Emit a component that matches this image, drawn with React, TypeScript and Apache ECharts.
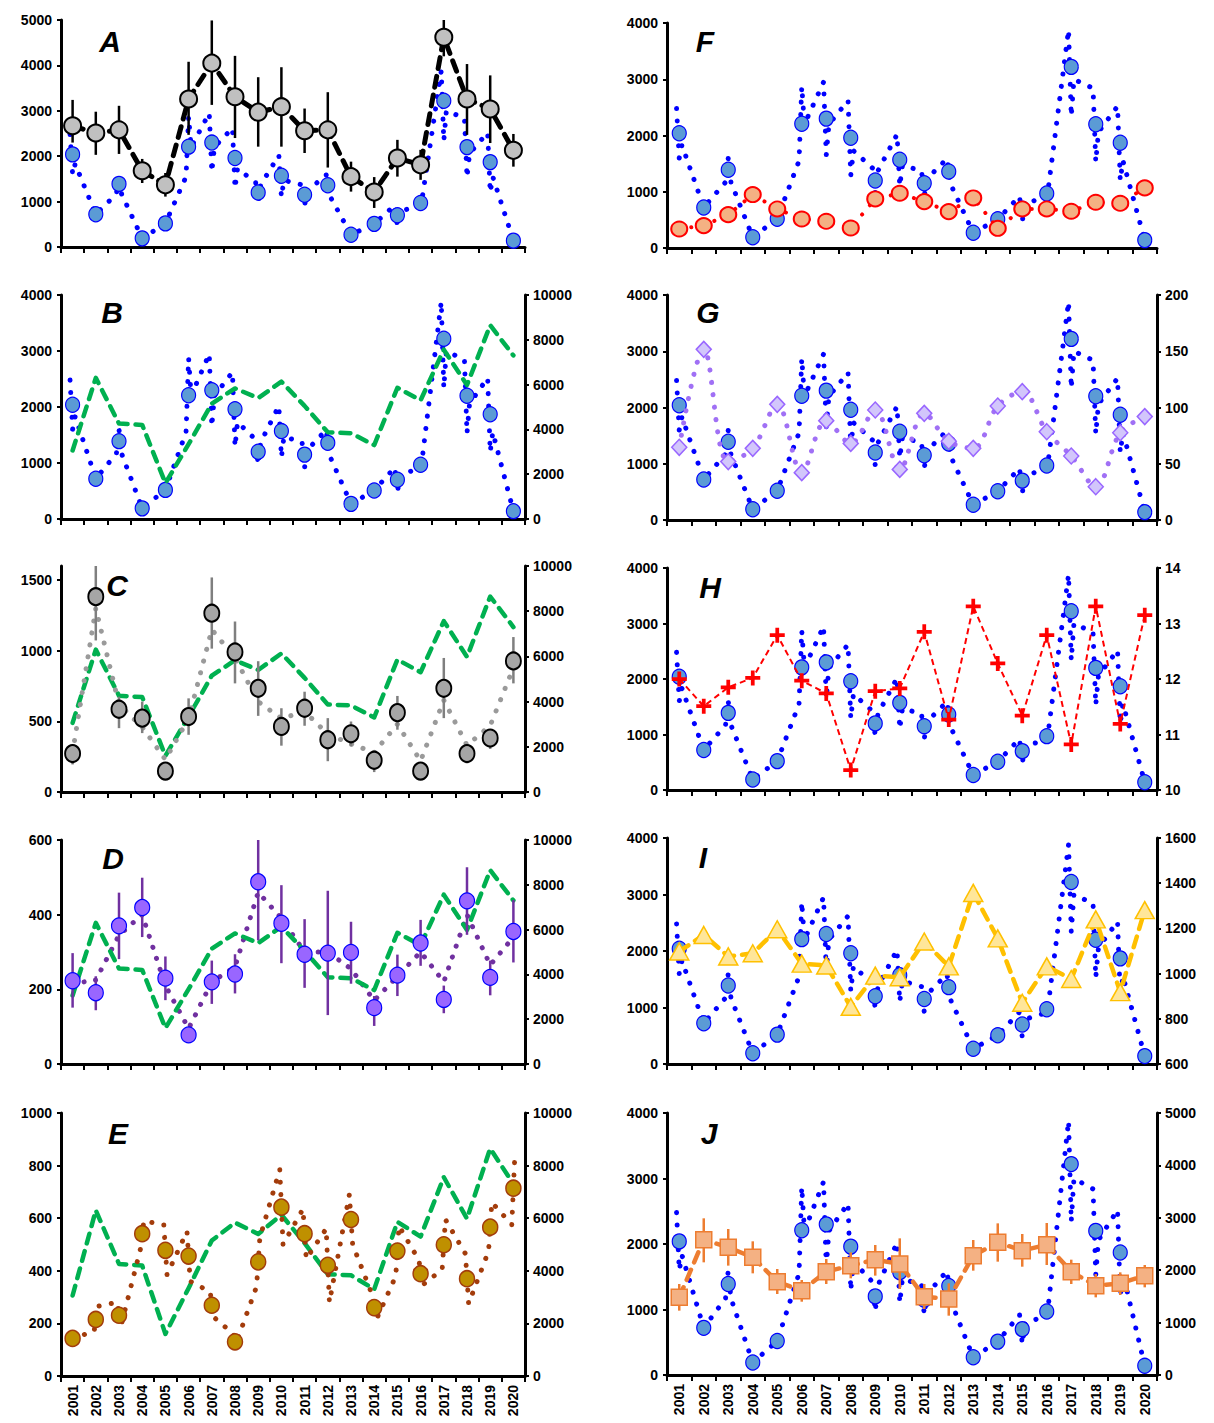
import { useEffect, useRef } from 'react';
import * as echarts from 'echarts';

const years = ['2001','2002','2003','2004','2005','2006','2007','2008','2009','2010','2011','2012','2013','2014','2015','2016','2017','2018','2019','2020'];

// Blue series (shared by A, B, F, G, H, I, J)
const blueMean = [2040, 720, 1390, 190, 520, 2210, 2300, 1960, 1200, 1570, 1150, 1360, 270, 510, 700, 970, 3220, 2200, 1870, 140];
const blueObs = [
  [2480, 1600, 1830], [720], [1170, 1600, 1170], [190], [520],
  [1550, 2870, 2200], [2950, 1650, 2200], [2620, 1290, 1730], [1420, 970, 1370], [2020, 1100, 1470],
  [1370, 920, 1230], [1590, 1140], [270], [510], [920, 470, 790],
  [900, 1080], [3880, 2340, 3000], [2840, 1530, 2060], [2520, 1200, 1550], [140],
];

// Panel A
const aMean = [2670, 2510, 2580, 1680, 1370, 3260, 4050, 3310, 2970, 3090, 2560, 2580, 1550, 1210, 1960, 1810, 4620, 3260, 3040, 2130];
const aLo = [2300, 2030, 2050, 1410, 1110, 2470, 3130, 2400, 2210, 2210, 2070, 1750, 1220, 860, 1550, 1480, 4200, 2470, 2290, 1770];
const aHi = [3240, 2980, 3110, 1940, 1630, 4080, 4990, 4210, 3740, 3960, 3050, 3410, 1880, 1540, 2360, 2140, 5200, 4030, 3780, 2490];

// Green dashed series (B, C, D, E, right axis)
const green = [3060, 6300, 4260, 4200, 1600, 3340, 5150, 5830, 5400, 6130, 5050, 3870, 3830, 3300, 5860, 5300, 7560, 5980, 8650, 7300];

// Panel C
const cMean = [272, 1383, 586, 523, 148, 534, 1266, 991, 734, 464, 593, 370, 412, 225, 562, 148, 734, 272, 382, 928];
const cLo = [195, 1073, 452, 417, 100, 405, 1015, 769, 539, 328, 469, 218, 323, 141, 441, 110, 523, 206, 305, 769];
const cHi = [335, 1700, 675, 640, 206, 663, 1519, 1207, 926, 593, 710, 523, 499, 288, 680, 200, 949, 335, 441, 1097];
const cObs = [[280], [1300], [620], [460], [230], [520], [1150], [950], [640], [520], [570], [410], [340], [280], [480], [220], [650], [330], [470], [880]];

// Panel D
const dMean = [223, 191, 370, 419, 230, 78, 220, 241, 488, 377, 294, 297, 299, 151, 238, 324, 173, 437, 232, 355];
const dLo = [151, 144, 281, 340, 171, 70, 161, 189, 331, 270, 204, 131, 215, 102, 182, 263, 136, 346, 184, 272];
const dHi = [297, 235, 459, 499, 288, 85, 277, 294, 640, 479, 388, 464, 381, 182, 293, 386, 210, 527, 277, 439];
const dObs = [[215], [225], [345], [400], [210], [95], [220], [260], [460], [390], [300], [300], [255], [170], [235], [300], [220], [400], [265], [340]];

// Panel E
const eMean = [143, 215, 231, 541, 478, 456, 269, 130, 434, 642, 541, 421, 595, 260, 475, 389, 499, 370, 566, 714];
const eObs = [
  [143], [170, 265], [280, 185], [485, 590], [575, 385],
  [550, 360], [320, 225], [160, 130], [340, 525], [785, 500],
  [635, 445], [560, 280], [690, 500], [305, 210], [380, 570],
  [440, 345], [405, 595], [465, 275], [475, 660], [575, 855],
];

// Panel F
const fRed = [338, 398, 593, 950, 694, 516, 475, 356, 872, 973, 825, 647, 890, 350, 694, 694, 653, 813, 795, 1068];
// Panel G
const gDiamond = [64.6, 151.7, 51.9, 63.7, 102.8, 42.1, 88.3, 68.1, 97.8, 45.0, 94.8, 70.0, 63.7, 101.3, 114.1, 78.5, 56.9, 29.6, 77.6, 91.9];
// Panel H
const hCross = [12.0, 11.51, 11.85, 12.02, 12.79, 11.97, 11.74, 10.36, 11.78, 11.83, 12.85, 11.27, 13.31, 12.28, 11.34, 12.79, 10.82, 13.31, 11.19, 13.15];
// Panel I
const iTri = [1098, 1171, 1076, 1090, 1196, 1044, 1036, 853, 991, 984, 1142, 1032, 1357, 1156, 871, 1032, 976, 1240, 918, 1281];
// Panel J
const jSquare = [1482, 2583, 2436, 2246, 1781, 1609, 1972, 2087, 2201, 2119, 1495, 1450, 2277, 2532, 2373, 2487, 1972, 1705, 1749, 1896];
const jLo = [1228, 2150, 2087, 1940, 1546, 1399, 1737, 1845, 1896, 1641, 1260, 1132, 1991, 2163, 2067, 2099, 1737, 1482, 1527, 1673];
const jHi = [1737, 2990, 2786, 2551, 2023, 1813, 2214, 2341, 2481, 2608, 1737, 1749, 2576, 2894, 2691, 2901, 2201, 1927, 1959, 2099];

const FONT = '"Liberation Sans", Arial, sans-serif';

const pts = (arr: number[]) => arr.map((v, i) => [i + 1, v]);
// observations within a year are spread very slightly around the year position
const OFFS: Record<number, number[]> = { 1: [0], 2: [-0.07, 0.07], 3: [-0.11, 0, 0.11] };
const obsPts = (obs: number[][]) => obs.flatMap((vals, i) => vals.map((v, j) => [i + 1 + (OFFS[vals.length] || [0])[j], v]));
const barPts = (lo: number[], hi: number[]) => lo.map((l, i) => [i + 1, l, hi[i]]);

function App() {
  const ref = useRef<HTMLDivElement>(null);
  useEffect(() => {
    if (!ref.current) return;
    const chart = echarts.init(ref.current, null, { renderer: 'svg' });

    const grids: any[] = [];
    const xAxes: any[] = [];
    const yAxes: any[] = [];
    const series: any[] = [];
    const graphics: any[] = [];

    const dotted = (data: any[], color: string, xi: number, yi: number, width = 5, gap = 12.3, z = 2, smooth: any = false) => ({
      type: 'line', xAxisIndex: xi, yAxisIndex: yi, data, symbol: 'none', smooth, z, silent: true,
      lineStyle: { color, width, type: [0.1, gap], cap: 'round', join: 'round' },
    });
    const dashed = (data: any[], color: string, xi: number, yi: number, width: number, dash: number[], z = 3, cap = 'round') => ({
      type: 'line', xAxisIndex: xi, yAxisIndex: yi, data, symbol: 'none', z, silent: true,
      lineStyle: { color, width, type: dash, cap, join: 'round' },
    });
    const marks = (data: any[], symbol: string, size: any, fill: string, border: string, bw: number, xi: number, yi: number, z = 5) => ({
      type: 'scatter', xAxisIndex: xi, yAxisIndex: yi, data, symbol, symbolSize: size, z, silent: true,
      itemStyle: { color: fill, borderColor: border, borderWidth: bw, opacity: 1 },
    });
    const errBars = (data: any[], color: string, xi: number, yi: number, width = 2.5, z = 4) => ({
      type: 'custom', xAxisIndex: xi, yAxisIndex: yi, data, z, silent: true, clip: true,
      encode: { x: 0, y: [1, 2] },
      renderItem: (_p: any, api: any) => {
        const x = api.value(0);
        const a = api.coord([x, api.value(1)]);
        const b = api.coord([x, api.value(2)]);
        return { type: 'line', shape: { x1: a[0], y1: a[1], x2: b[0], y2: b[1] }, style: { stroke: color, lineWidth: width } };
      },
    });

    const plain = (v: number) => String(v);
    const axisBase = {
      axisLine: { show: true, lineStyle: { color: '#000', width: 3 } },
      axisTick: { show: true, length: 4, inside: false, lineStyle: { color: '#000', width: 2 } },
      axisLabel: { color: '#000', fontFamily: FONT, fontWeight: 'bold', fontSize: 14, margin: 9, formatter: plain },
      splitLine: { show: false },
    };

    const panels: any[] = [
      { L: 'A', col: 0, top: 20, h: 227, lmax: 5000, li: 1000, lx: 110, ly: 41 },
      { L: 'B', col: 0, top: 295, h: 224, lmax: 4000, li: 1000, rmax: 10000, ri: 2000, lx: 112, ly: 312 },
      { L: 'C', col: 0, top: 566, h: 226, lmax: 1600, li: 500, hideMax: true, rmax: 10000, ri: 2000, lx: 117, ly: 585 },
      { L: 'D', col: 0, top: 840, h: 224, lmax: 600, li: 200, rmax: 10000, ri: 2000, lx: 113, ly: 858 },
      { L: 'E', col: 0, top: 1113, h: 263, lmax: 1000, li: 200, rmax: 10000, ri: 2000, lx: 118, ly: 1133, labels: true },
      { L: 'F', col: 1, top: 23, h: 225, lmax: 4000, li: 1000, lx: 705, ly: 41 },
      { L: 'G', col: 1, top: 295, h: 225, lmax: 4000, li: 1000, rmin: 0, rmax: 200, ri: 50, lx: 708, ly: 312 },
      { L: 'H', col: 1, top: 568, h: 222, lmax: 4000, li: 1000, rmin: 10, rmax: 14, ri: 1, lx: 710, ly: 587 },
      { L: 'I', col: 1, top: 838, h: 226, lmax: 4000, li: 1000, rmin: 600, rmax: 1600, ri: 200, lx: 703, ly: 857 },
      { L: 'J', col: 1, top: 1113, h: 262, lmax: 4000, li: 1000, rmin: 0, rmax: 5000, ri: 1000, lx: 709, ly: 1133, labels: true },
    ];

    panels.forEach((p, k) => {
      const left = p.col === 0 ? 61 : 667;
      const width = p.col === 0 ? 464 : 490;
      grids.push({ left, top: p.top, width, height: p.h });
      xAxes.push({
        type: 'category', gridIndex: k, data: years, boundaryGap: true, position: 'bottom',
        axisLine: { show: true, onZero: false, lineStyle: { color: '#000', width: 3 } },
        axisTick: { show: true, interval: 0, alignWithLabel: false, length: 6, lineStyle: { color: '#000', width: 2 } },
        axisLabel: { show: !!p.labels, interval: 0, rotate: 90, color: '#000', fontFamily: FONT, fontWeight: 'bold', fontSize: 14, margin: 9 },
        splitLine: { show: false },
      });
      const xi = xAxes.length;
      xAxes.push({ type: 'value', gridIndex: k, min: 0.5, max: 20.5, show: false });
      const yl = yAxes.length;
      yAxes.push({
        type: 'value', gridIndex: k, position: 'left', min: 0, max: p.lmax, interval: p.li,
        ...axisBase,
        axisLabel: { ...axisBase.axisLabel, showMaxLabel: !p.hideMax },
      });
      let yr = yl;
      if (p.rmax !== undefined) {
        yr = yAxes.length;
        yAxes.push({
          type: 'value', gridIndex: k, position: 'right', min: p.rmin ?? 0, max: p.rmax, interval: p.ri,
          ...axisBase,
          axisLabel: { ...axisBase.axisLabel, margin: 8 },
        });
      }
      graphics.push({
        type: 'text', x: p.lx, y: p.ly, z: 100,
        style: { text: p.L, font: `italic bold 30px ${FONT}`, fill: '#000', textAlign: 'center', textVerticalAlign: 'middle' },
      });

      const blueDots = () => dotted(obsPts(blueObs), '#0000ff', xi, yl, 5, 12.3, 2);
      const blueCircles = () => marks(pts(blueMean), 'circle', [14, 15], '#5b9bd5', '#0000ff', 1.2, xi, yl, 6);

      switch (p.L) {
        case 'A':
          series.push(blueDots(), blueCircles());
          series.push(dashed(pts(aMean), '#000', xi, yl, 5, [11, 8], 7));
          series.push(errBars(barPts(aLo, aHi), '#000', xi, yl, 2.5, 8));
          series.push(marks(pts(aMean), 'circle', [17, 17], '#c0c0c0', '#000', 2, xi, yl, 9));
          break;
        case 'B':
          series.push(blueDots(), blueCircles());
          series.push(dashed(pts(green), '#00b050', xi, yr, 4.5, [10, 8], 7));
          break;
        case 'C':
          series.push(dashed(pts(green), '#00b050', xi, yr, 4.5, [10, 8], 3));
          series.push(dotted(obsPts(cObs), '#9a9a9a', xi, yl, 5, 12, 4));
          series.push(errBars(barPts(cLo, cHi), '#7f7f7f', xi, yl, 2.5, 5));
          series.push(marks(pts(cMean), 'circle', [15, 17], '#a6a6a6', '#000', 2, xi, yl, 6));
          break;
        case 'D':
          series.push(dotted(obsPts(dObs), '#7030a0', xi, yl, 5, 11.5, 3));
          series.push(dashed(pts(green), '#00b050', xi, yr, 4.5, [10, 8], 4));
          series.push(errBars(barPts(dLo, dHi), '#7030a0', xi, yl, 2.5, 5));
          series.push(marks(pts(dMean), 'circle', [15, 16], '#9966ff', '#0000ff', 1.2, xi, yl, 6));
          break;
        case 'E':
          series.push(dashed(pts(green), '#00b050', xi, yr, 4.5, [10, 8], 3));
          series.push(dotted(obsPts(eObs), '#a33c0b', xi, yl, 5, 12.3, 4));
          series.push(marks(pts(eMean), 'circle', [15, 16], '#bf9000', '#a33c0b', 1.5, xi, yl, 6));
          break;
        case 'F':
          series.push(blueDots(), blueCircles());
          series.push(dotted(pts(fRed), '#ff0000', xi, yl, 4, 12, 7));
          series.push(marks(pts(fRed), 'circle', [16, 15], '#f4b183', '#ff0000', 2, xi, yl, 8));
          break;
        case 'G':
          series.push(blueDots(), blueCircles());
          series.push(dotted(pts(gDiamond), '#a070f5', xi, yr, 5, 12.3, 7, 0.35));
          series.push(marks(pts(gDiamond), 'diamond', [15, 16], '#d2c6fb', '#9966ff', 1.5, xi, yr, 8));
          break;
        case 'H':
          series.push(blueDots(), blueCircles());
          series.push(dashed(pts(hCross), '#ff0000', xi, yr, 2, [6, 4], 7, 'butt'));
          series.push(marks(pts(hCross), 'path://M3,0H5V3H8V5H5V8H3V5H0V3H3Z', [15, 15], '#ff0000', '#ff0000', 0, xi, yr, 8));
          break;
        case 'I':
          series.push(blueDots(), blueCircles());
          series.push(dashed(pts(iTri), '#ffc000', xi, yr, 4.5, [11, 8], 7));
          series.push(marks(pts(iTri), 'triangle', [19, 17], '#ffe699', '#ffc000', 1.5, xi, yr, 8));
          break;
        case 'J':
          series.push(blueDots(), blueCircles());
          series.push(dashed(pts(jSquare), '#ed7d31', xi, yr, 4.5, [11, 8], 7));
          series.push(errBars(barPts(jLo, jHi), '#ed7d31', xi, yr, 2.5, 8));
          series.push(marks(pts(jSquare), 'rect', [16, 16], '#f4b183', '#ed7d31', 1.5, xi, yr, 9));
          break;
      }
    });

    chart.setOption({
      animation: false,
      backgroundColor: '#ffffff',
      grid: grids,
      xAxis: xAxes,
      yAxis: yAxes,
      series,
      graphic: graphics,
    });
    return () => chart.dispose();
  }, []);

  return <div ref={ref} style={{ position: 'fixed', left: 0, top: 0, width: 1214, height: 1423, background: '#fff' }} />;
}

export default App;
